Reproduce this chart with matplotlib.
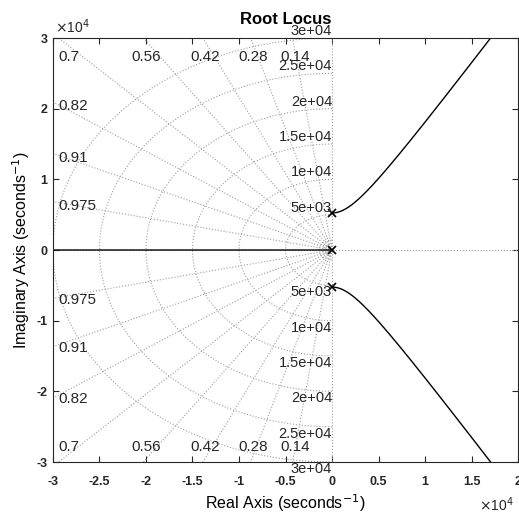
import numpy as np
import matplotlib
matplotlib.use("Agg")
import matplotlib.pyplot as plt
from matplotlib.ticker import FuncFormatter, FixedLocator

plt.rcParams['font.family'] = ['Liberation Sans', 'DejaVu Sans']

# open-loop poles (rad/s), no zeros
poles = [0.0, 5.24e3j, -5.24e3j]
# sgrid values
zetas = [0.14, 0.28, 0.42, 0.56, 0.7, 0.82, 0.91, 0.975]
wns = [5e3, 1e4, 1.5e4, 2e4, 2.5e4, 3e4]
wn_small = [550, 900, 1400]
xticks = [-3e4, -2.5e4, -2e4, -1.5e4, -1e4, -0.5e4, 0, 0.5e4, 1e4, 1.5e4, 2e4]
yticks = [-3e4, -2e4, -1e4, 0, 1e4, 2e4, 3e4]
xlim = (-3e4, 2e4)
ylim = (-3e4, 3e4)

grey = (0.15, 0.15, 0.15)
gridc = (0.62, 0.62, 0.62)

fig = plt.figure(figsize=(5.19, 5.22), dpi=100)
ax = fig.add_axes([0.1021, 0.1149, 0.8960, 0.8123])

# --- sgrid ---
th = np.linspace(np.pi / 2, 3 * np.pi / 2, 300)
for w in wns + wn_small:
    ax.plot(w * np.cos(th), w * np.sin(th), ':', color=gridc, lw=0.8)
R = 1e5
for z in zetas:
    a = np.arccos(z)
    for sgn in (1, -1):
        ax.plot([0, -R * np.cos(a)], [0, sgn * R * np.sin(a)], ':', color=gridc, lw=0.8)
ax.plot([0, 0], [-R, R], ':', color=gridc, lw=0.8)
ax.plot([xlim[0], xlim[1]], [0, 0], ':', color=gridc, lw=0.8)

# damping labels
for z in zetas:
    a = np.arccos(z)
    xt = -ylim[1] / np.tan(a)
    if xt >= xlim[0]:
        ha = 'center'
        if xt - xlim[0] < 2.5e3:
            xt, ha = xlim[0] + 300, 'left'
        ax.annotate(f'{z:g}', (xt, ylim[1]), xytext=(2, -14), textcoords='offset points',
                    ha=ha, va='center', fontsize=11, color=grey)
        ax.annotate(f'{z:g}', (xt, ylim[0]), xytext=(2, 11), textcoords='offset points',
                    ha=ha, va='center', fontsize=11, color=grey)
    else:
        yt = -xlim[0] * np.tan(a)
        ax.annotate(f'{z:g}', (xlim[0], yt), xytext=(4, -3), textcoords='offset points',
                    ha='left', va='center', fontsize=11, color=grey)
        ax.annotate(f'{z:g}', (xlim[0], -yt), xytext=(4, -1), textcoords='offset points',
                    ha='left', va='center', fontsize=11, color=grey)

# natural frequency labels
for w in wns:
    ax.text(0, w, f'{w:.2g}', ha='right', va='bottom',
            fontsize=10.5, color=grey, clip_on=False)
    ax.text(0, -w, f'{w:.2g}', ha='right', va='top', fontsize=10.5, color=grey, clip_on=False)

# --- root locus of 1 + K / prod(s - p) ---
den = np.poly(poles).real
gains = np.concatenate([[0], np.logspace(4, 15, 3000)])
br_real, br_up, br_lo = [], [], []
for k in gains:
    c = den.copy()
    c[-1] += k
    r = np.roots(c)
    r = r[np.argsort(r.imag)]
    br_lo.append(r[0])
    br_real.append(r[1].real)
    br_up.append(r[2])
br_up = np.array(br_up)
br_lo = np.array(br_lo)
ax.plot(br_real, np.zeros(len(br_real)), color='k', lw=1)
ax.plot(br_up.real, br_up.imag, color='k', lw=1)
ax.plot(br_lo.real, br_lo.imag, color='k', lw=1)
ax.plot(np.real(poles), np.imag(poles), 'x', color='k', ms=6, mew=1.2)

# --- axes styling ---
ax.set_xlim(xlim)
ax.set_ylim(ylim)
ax.xaxis.set_major_locator(FixedLocator(xticks))
ax.yaxis.set_major_locator(FixedLocator(yticks))
fmt = FuncFormatter(lambda v, p: f'{v / 1e4:g}')
ax.xaxis.set_major_formatter(fmt)
ax.yaxis.set_major_formatter(fmt)
ax.tick_params(direction='in', length=4, width=0.8, colors=grey, labelsize=9,
               top=True, right=True)
ax.tick_params(axis='x', pad=10)
ax.tick_params(axis='y', pad=4)
for lab in ax.get_xticklabels() + ax.get_yticklabels():
    lab.set_fontweight('bold')
for s in ax.spines.values():
    s.set_color(grey)
    s.set_linewidth(0.8)

ax.set_title('Root Locus', fontsize=12, fontweight='bold', pad=10)
ax.set_xlabel('Real Axis (seconds$^{-1}$)', fontsize=11.5, labelpad=3)
ax.set_ylabel('Imaginary Axis (seconds$^{-1}$)', fontsize=11.5, labelpad=3)
fig.text(55 / 519, 1 - 27 / 522, r'$\times$10$^{4}$', fontsize=10, color=grey, va='center', ha='left')
fig.text(514 / 519, 1 - 505 / 522, r'$\times$10$^{4}$', fontsize=10, color=grey, va='center', ha='right')

fig.savefig('out.png', dpi=100)
